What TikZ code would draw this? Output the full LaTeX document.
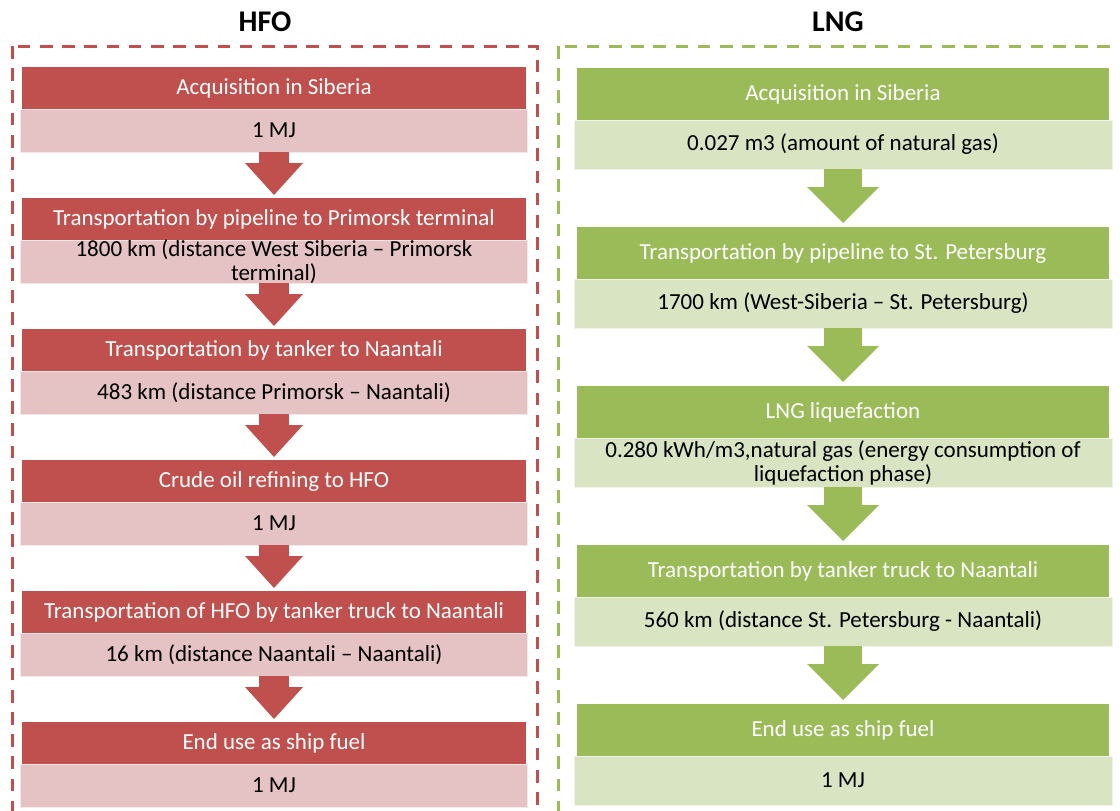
\documentclass[tikz,border=0pt]{standalone}
\usepackage{fontspec}
\setmainfont{Carlito}
\usetikzlibrary{positioning,arrows.meta}

\definecolor{hfored}{RGB}{192,80,77}
\definecolor{hfopink}{RGB}{229,194,195}
\definecolor{lnggreen}{RGB}{155,187,89}
\definecolor{lngpale}{RGB}{216,228,194}

\tikzset{
  every node/.style={font=\fontsize{23}{24}\selectfont, outer sep=0pt, inner sep=2pt},
  coltitle/.style={font=\fontsize{30}{32}\selectfont\bfseries},
  hfohead/.style={fill=hfored, text=white, minimum width=504pt, minimum height=42pt},
  hfosub/.style={fill=hfopink, draw=hfopink!40!white, line width=1pt, minimum width=507pt, minimum height=43pt},
  lnghead/.style={fill=lnggreen, text=white, minimum width=532pt, minimum height=52pt},
  lngsub/.style={fill=lngpale, draw=lngpale!40!white, line width=1pt, minimum width=538pt, minimum height=49pt},
  subtext/.style={align=center, text=black},
  hfoarrow/.style={draw=hfored, line width=30pt, -{Triangle[width=58pt,length=32pt,line width=0pt]}, shorten >=3pt},
  lngarrow/.style={draw=lnggreen, line width=38pt, -{Triangle[width=72pt,length=36pt,line width=0pt]}, shorten >=4pt},
  hfoframe/.style={draw=hfored, line width=3pt, dash pattern=on 12.7pt off 9.5pt},
  lngframe/.style={draw=lnggreen, line width=3pt, dash pattern=on 12.7pt off 9.5pt}
}

\begin{document}
\begin{tikzpicture}[x=1pt,y=-1pt]
  \useasboundingbox (0,0) rectangle (1120,811);
  \clip (0,0) rectangle (1120,811);

  \node[coltitle] (hfo) at (265,22) {HFO};
  \node[coltitle] (lng) at (838,22) {LNG};
  \draw[hfoframe] (12,46) rectangle (537,840);
  \draw[lngframe] (558,46) rectangle (1150,840);

  %hfo
  \node[hfohead] (hfoA) at (274,88) {Acquisition in Siberia};
  \node[hfosub, below=0pt of hfoA] (hfoAq) {1 MJ};
  \node[hfohead, below=46pt of hfoAq] (hfoB) {Transportation by pipeline to Primorsk terminal};
  \node[hfosub, below=0pt of hfoB, label={[subtext]center:{1800 km (distance West Siberia – Primorsk\\terminal)}}] (hfoBq) {};
  \node[hfohead, below=46pt of hfoBq] (hfoC) {Transportation by tanker to Naantali};
  \node[hfosub, below=0pt of hfoC] (hfoCq) {483 km (distance Primorsk – Naantali)};
  \node[hfohead, below=46pt of hfoCq] (hfoD) {Crude oil refining to HFO};
  \node[hfosub, below=0pt of hfoD] (hfoDq) {1 MJ};
  \node[hfohead, below=46pt of hfoDq] (hfoE) {Transportation of HFO by tanker truck to Naantali};
  \node[hfosub, below=0pt of hfoE] (hfoEq) {16 km (distance Naantali – Naantali)};
  \node[hfohead, below=46pt of hfoEq] (hfoF) {End use as ship fuel};
  \node[hfosub, below=0pt of hfoF] (hfoFq) {1 MJ};

  \draw[hfoarrow] (hfoAq) -- (hfoB);
  \draw[hfoarrow] (hfoBq) -- (hfoC);
  \draw[hfoarrow] (hfoCq) -- (hfoD);
  \draw[hfoarrow] (hfoDq) -- (hfoE);
  \draw[hfoarrow] (hfoEq) -- (hfoF);

  %lng
  \node[lnghead] (lngA) at (843,94) {Acquisition in Siberia};
  \node[lngsub, below=0pt of lngA] (lngAq) {0.027 m3 (amount of natural gas)};
  \node[lnghead, below=58pt of lngAq] (lngB) {Transportation by pipeline to St. Petersburg};
  \node[lngsub, below=0pt of lngB] (lngBq) {1700 km (West-Siberia – St. Petersburg)};
  \node[lnghead, below=58pt of lngBq] (lngC) {LNG liquefaction};
  \node[lngsub, below=0pt of lngC, label={[subtext]center:{0.280 kWh/m3,natural gas (energy consumption of\\liquefaction phase)}}] (lngCq) {};
  \node[lnghead, below=58pt of lngCq] (lngD) {Transportation by tanker truck to Naantali};
  \node[lngsub, below=0pt of lngD] (lngDq) {560 km (distance St. Petersburg - Naantali)};
  \node[lnghead, below=58pt of lngDq] (lngE) {End use as ship fuel};
  \node[lngsub, below=0pt of lngE] (lngEq) {1 MJ};

  \draw[lngarrow] (lngAq) -- (lngB);
  \draw[lngarrow] (lngBq) -- (lngC);
  \draw[lngarrow] (lngCq) -- (lngD);
  \draw[lngarrow] (lngDq) -- (lngE);
\end{tikzpicture}
\end{document}
